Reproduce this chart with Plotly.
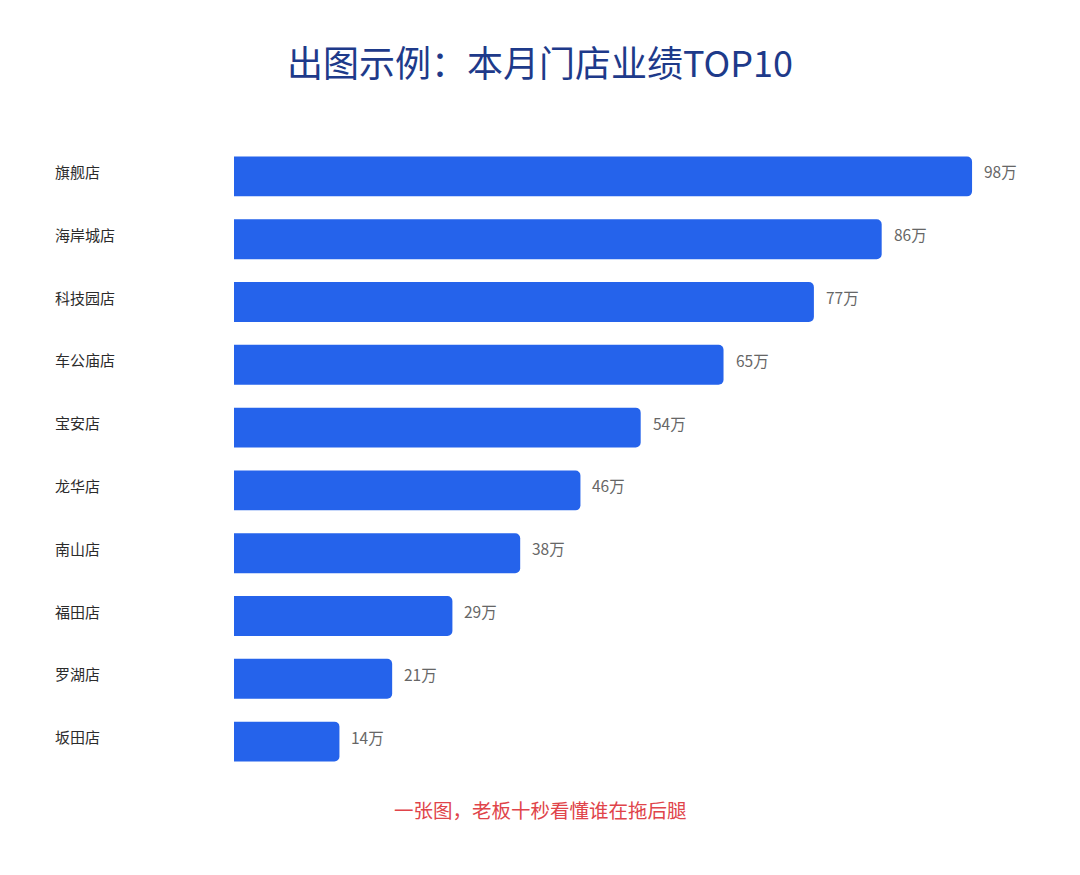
import plotly.graph_objects as go

stores = ["旗舰店", "海岸城店", "科技园店", "车公庙店", "宝安店",
          "龙华店", "南山店", "福田店", "罗湖店", "坂田店"]
sales = [98, 86, 77, 65, 54, 46, 38, 29, 21, 14]
value_labels = [f"{v}万" for v in sales]

title_text = "出图示例：本月门店业绩TOP10"
footer_text = "一张图，老板十秒看懂谁在拖后腿"

W, H = 1080, 875
# page has an 8px body offset, so positions are given in figure pixels
ml, mr, mt, mb = 226, 70, 137, 110
plot_w = W - ml - mr
plot_h = H - mt - mb

fig = go.Figure()
fig.add_trace(go.Bar(
    x=sales,
    y=stores,
    orientation="h",
    marker=dict(color="#2563EB", cornerradius=5, line=dict(width=0)),
    hoverinfo="skip",
))

# value labels to the right of each bar
for s, v, lab in zip(stores, sales, value_labels):
    fig.add_annotation(
        x=v, y=s, xref="x", yref="y", text=lab, showarrow=False,
        xanchor="left", xshift=10, yshift=5,
        font=dict(family="Noto Sans CJK SC", size=15.5, color="#666666"),
    )

# left aligned store names
for s in stores:
    fig.add_annotation(
        x=(45 - ml) / plot_w, y=s, xref="paper", yref="y", text=s,
        showarrow=False, xanchor="left", yshift=5,
        font=dict(family="Noto Sans CJK SC", size=15, color="#2B2B2B"),
    )

fig.add_annotation(
    x=(532 - ml) / plot_w, y=(H - mb - 801) / plot_h,
    xref="paper", yref="paper", text=footer_text,
    showarrow=False, xanchor="center", yanchor="middle",
    font=dict(family="Noto Sans CJK SC", size=19.5, color="#E0444A"),
)

fig.update_layout(
    width=W, height=H,
    margin=dict(l=ml, r=mr, t=mt, b=mb),
    paper_bgcolor="white", plot_bgcolor="white",
    title=dict(
        text=title_text, x=532 / W, xref="container", xanchor="center",
        y=1 - 56 / H, yref="container", yanchor="middle",
        font=dict(family="Noto Sans CJK SC", size=36, color="#1E3A8A"),
    ),
    xaxis=dict(range=[0, 104.1], visible=False, fixedrange=True),
    yaxis=dict(autorange="reversed", showticklabels=False, showgrid=False,
               zeroline=False, showline=False, ticks="", fixedrange=True),
    bargap=0.365,
    showlegend=False,
)

fig.write_html("out.html")
